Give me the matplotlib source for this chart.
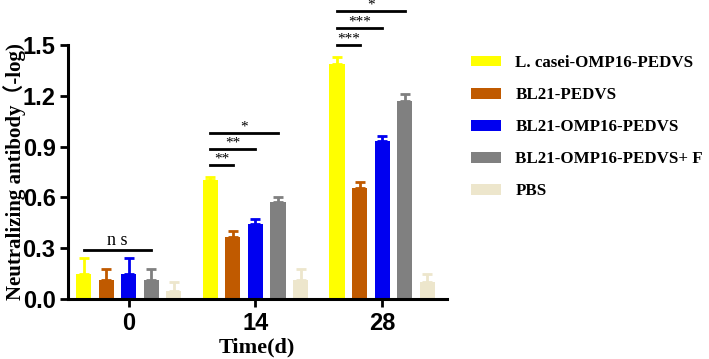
import matplotlib.pyplot as plt
import numpy as np

days = ["0", "14", "28"]
groups = ["L. casei-OMP16-PEDVS", "BL21-PEDVS", "BL21-OMP16-PEDVS",
          "BL21-OMP16-PEDVS+ F", "PBS"]
means = [
    [0.15, 0.70, 1.385],
    [0.115, 0.365, 0.655],
    [0.15, 0.445, 0.93],
    [0.115, 0.57, 1.17],
    [0.05, 0.115, 0.10],
]
errs = [
    [0.09, 0.02, 0.045],
    [0.06, 0.035, 0.035],
    [0.09, 0.03, 0.03],
    [0.06, 0.03, 0.04],
    [0.05, 0.06, 0.05],
]
colors = ["#FFFF00", "#C05A00", "#0000F0", "#808080", "#EDE6CC"]

# significance brackets: (day index, compared group index, line height, label)
sig = [
    (0, 3, 0.29, "n s"),
    (1, 1, 0.79, "**"),
    (1, 2, 0.885, "**"),
    (1, 3, 0.98, "*"),
    (2, 1, 1.50, "***"),
    (2, 2, 1.60, "***"),
    (2, 3, 1.70, "*"),
]

serif = ["Liberation Serif", "Noto Sans CJK SC"]

fig = plt.figure(figsize=(7.09, 3.59), dpi=100)
ax = fig.add_axes([0.096, 0.167, 0.534, 0.708])

x = np.arange(len(days))
step = 0.178
width = 0.119
for i in range(len(groups)):
    pos = x + (i - 2) * step
    ax.bar(pos, means[i], width, color=colors[i], label=groups[i], zorder=2)
    ax.errorbar(pos, means[i], yerr=[np.zeros(3), errs[i]], fmt="none",
                ecolor=colors[i], elinewidth=2, capsize=3.5, capthick=2, zorder=2)

for d, g, h, lab in sig:
    x0 = x[d] - 2 * step
    x1 = x[d] + (g - 2) * step
    ax.plot([x0, x1], [h, h], color="black", lw=2, clip_on=False)
    if lab == "n s":
        ax.text((x0 + x1) / 2, h + 0.005, lab, ha="center", va="bottom",
                fontsize=13, family=serif, clip_on=False)
    else:
        ax.text((x0 + x1) / 2, h - 0.005, lab, ha="center", va="bottom",
                fontsize=11, family=serif, clip_on=False)

ax.set_xlim(-0.48, 2.51)
ax.set_ylim(0, 1.5)
ax.set_yticks([0, 0.3, 0.6, 0.9, 1.2, 1.5])
ax.set_yticklabels(["0.0", "0.3", "0.6", "0.9", "1.2", "1.5"])
ax.set_xticks(x)
ax.set_xticklabels(days)
for lbl in ax.get_xticklabels() + ax.get_yticklabels():
    lbl.set_family("Liberation Sans")
    lbl.set_fontweight("bold")
    lbl.set_fontsize(17)
ax.tick_params(width=2, length=6, pad=3)
for s in ["top", "right"]:
    ax.spines[s].set_visible(False)
for s in ["left", "bottom"]:
    ax.spines[s].set_linewidth(2.2)

ax.set_ylabel("Neutralizing antibody（-log)", family=serif,
              fontweight="bold", fontsize=15)
ax.yaxis.set_label_coords(-0.112, 0.5)
ax.set_xlabel("Time(d)", family=serif, fontweight="bold",
              fontsize=16, labelpad=2)

leg = ax.legend(loc="upper left", bbox_to_anchor=(1.025, 1.02), frameon=False,
                prop={"family": "Liberation Serif", "weight": "bold", "size": 12.2},
                handlelength=1.75, handleheight=0.6, labelspacing=0.95,
                handletextpad=0.85)

fig.savefig("out.png", dpi=100)
